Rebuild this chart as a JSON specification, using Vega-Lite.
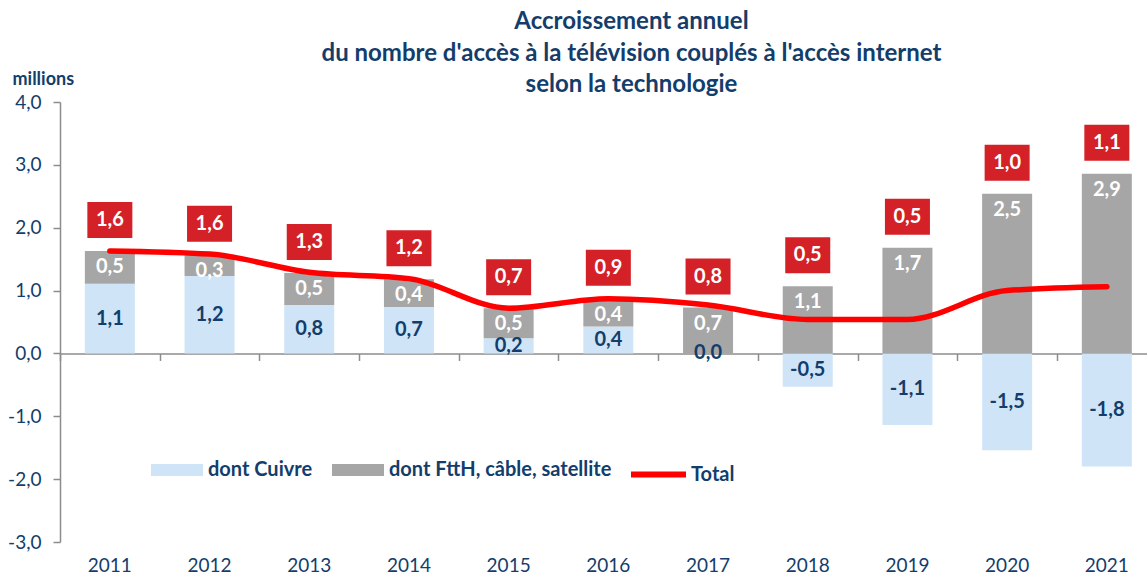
{
  "$schema": "https://vega.github.io/schema/vega-lite/v6.json",
  "width": 1087,
  "height": 440,
  "autosize": {"type": "none"},
  "padding": {"left": 60, "top": 102, "right": 0, "bottom": 35},
  "background": "white",
  "title": {
    "text": ["Accroissement annuel", "du nombre d'accès à la télévision couplés à l'accès internet", "selon la technologie"],
    "font": "Lato",
    "fontSize": 24,
    "fontWeight": "bold",
    "color": "#133D6B",
    "anchor": "middle",
    "frame": "group",
    "dx": 28,
    "lineHeight": 31.5,
    "offset": -27
  },
  "config": {
    "view": {"stroke": null},
    "locale": {"number": {"decimal": ",", "thousands": "\u00a0", "grouping": [3], "currency": ["", " €"], "minus": "-"}},
    "font": "Lato"
  },
  "datasets": {
    "bars": [
      {"year": "2011", "serie": "dont Cuivre", "ord": 1, "value": 1.11},
      {"year": "2011", "serie": "dont FttH, câble, satellite", "ord": 2, "value": 0.52},
      {"year": "2012", "serie": "dont Cuivre", "ord": 1, "value": 1.23},
      {"year": "2012", "serie": "dont FttH, câble, satellite", "ord": 2, "value": 0.34},
      {"year": "2013", "serie": "dont Cuivre", "ord": 1, "value": 0.77},
      {"year": "2013", "serie": "dont FttH, câble, satellite", "ord": 2, "value": 0.51},
      {"year": "2014", "serie": "dont Cuivre", "ord": 1, "value": 0.74},
      {"year": "2014", "serie": "dont FttH, câble, satellite", "ord": 2, "value": 0.44},
      {"year": "2015", "serie": "dont Cuivre", "ord": 1, "value": 0.24},
      {"year": "2015", "serie": "dont FttH, câble, satellite", "ord": 2, "value": 0.48},
      {"year": "2016", "serie": "dont Cuivre", "ord": 1, "value": 0.43},
      {"year": "2016", "serie": "dont FttH, câble, satellite", "ord": 2, "value": 0.44},
      {"year": "2017", "serie": "dont Cuivre", "ord": 1, "value": 0.0},
      {"year": "2017", "serie": "dont FttH, câble, satellite", "ord": 2, "value": 0.73},
      {"year": "2018", "serie": "dont Cuivre", "ord": 1, "value": -0.53},
      {"year": "2018", "serie": "dont FttH, câble, satellite", "ord": 2, "value": 1.07},
      {"year": "2019", "serie": "dont Cuivre", "ord": 1, "value": -1.14},
      {"year": "2019", "serie": "dont FttH, câble, satellite", "ord": 2, "value": 1.68},
      {"year": "2020", "serie": "dont Cuivre", "ord": 1, "value": -1.54},
      {"year": "2020", "serie": "dont FttH, câble, satellite", "ord": 2, "value": 2.54},
      {"year": "2021", "serie": "dont Cuivre", "ord": 1, "value": -1.80},
      {"year": "2021", "serie": "dont FttH, câble, satellite", "ord": 2, "value": 2.86}
    ],
    "totals": [
      {"year": "2011", "total": 1.63},
      {"year": "2012", "total": 1.58},
      {"year": "2013", "total": 1.29},
      {"year": "2014", "total": 1.19},
      {"year": "2015", "total": 0.72},
      {"year": "2016", "total": 0.87},
      {"year": "2017", "total": 0.77},
      {"year": "2018", "total": 0.54},
      {"year": "2019", "total": 0.54},
      {"year": "2020", "total": 1.00},
      {"year": "2021", "total": 1.06}
    ]
  },
  "resolve": {"axis": {"x": "independent", "y": "independent"}},
  "layer": [
    {
      "data": {"name": "bars"},
      "mark": {"type": "bar", "strokeWidth": 0},
      "encoding": {
        "x": {
          "field": "year", "type": "nominal", "sort": "ascending",
          "scale": {"paddingInner": 0.4985, "paddingOuter": 0.2007, "align": 0.621},
          "axis": {
            "orient": "bottom", "title": null, "domain": false, "ticks": false,
            "labelAngle": 0, "labelFontSize": 19, "labelColor": "#133D6B", "labelPadding": 14,
            "labelFont": "Lato"
          }
        },
        "y": {
          "field": "value", "type": "quantitative", "stack": "zero",
          "scale": {"domain": [-3, 4], "nice": false, "zero": false},
          "axis": {
            "title": "millions", "titleAngle": 0, "titleAlign": "left", "titleBaseline": "alphabetic",
            "titleX": -48, "titleY": -18, "titleFontSize": 18, "titleFontWeight": "bold", "titleColor": "#133D6B",
            "titleFont": "Lato",
            "values": [-3, -2, -1, 0, 1, 2, 3, 4], "format": ".1f",
            "grid": false, "domainColor": "#8C8C8C", "domainWidth": 1.5,
            "tickColor": "#8C8C8C", "tickSize": 7, "tickWidth": 1.5,
            "labelFontSize": 19, "labelColor": "#133D6B", "labelPadding": 12, "labelFont": "Lato"
          }
        },
        "color": {
          "field": "serie", "type": "nominal",
          "scale": {"domain": ["dont Cuivre", "dont FttH, câble, satellite"], "range": ["#CFE4F7", "#A6A6A6"]},
          "legend": {
            "orient": "none", "legendX": 91, "legendY": 342, "direction": "horizontal", "title": null,
            "symbolType": "M-1,-0.23L1,-0.23L1,0.23L-1,0.23Z", "symbolSize": 2704, "symbolStrokeWidth": 0,
            "labelFontSize": 20, "labelFontWeight": "bold", "labelColor": "#133D6B", "labelOffset": 5,
            "columnPadding": 19, "labelFont": "Lato", "labelLimit": 400
          }
        },
        "order": {"field": "ord", "type": "quantitative"}
      }
    },
    {
      "data": {"name": "bars"},
      "transform": [{"filter": "datum.serie === 'dont Cuivre'"}],
      "mark": {"type": "text", "fontSize": 20, "fontWeight": "bold", "baseline": "middle", "align": "center", "font": "Lato", "color": "#133D6B"},
      "encoding": {
        "x": {"field": "year", "type": "nominal", "sort": "ascending", "axis": null},
        "y": {"field": "value", "type": "quantitative", "stack": "zero", "bandPosition": 0.5, "axis": null},
        "text": {"field": "value", "type": "quantitative", "format": ".1f"}
      }
    },
    {
      "data": {"name": "bars"},
      "transform": [
        {"stack": "value", "groupby": ["year"], "sort": [{"field": "ord", "order": "ascending"}], "as": ["v0", "v1"], "offset": "zero"},
        {"filter": "datum.serie !== 'dont Cuivre'"}
      ],
      "mark": {"type": "text", "fontSize": 20, "fontWeight": "bold", "baseline": "middle", "align": "center", "font": "Lato", "color": "#FFFFFF", "dy": 16},
      "encoding": {
        "x": {"field": "year", "type": "nominal", "sort": "ascending", "axis": null},
        "y": {"field": "v1", "type": "quantitative", "axis": null},
        "text": {"field": "value", "type": "quantitative", "format": ".1f"}
      }
    },
    {
      "data": {"name": "totals"},
      "mark": {"type": "line", "strokeWidth": 5.5, "strokeCap": "round", "strokeJoin": "round", "interpolate": "monotone"},
      "encoding": {
        "x": {
          "field": "year", "type": "nominal", "sort": "ascending",
          "axis": {
            "orient": "bottom", "offset": -188.57, "title": null, "labels": false,
            "domain": true, "domainColor": "#8C8C8C", "domainWidth": 1.5,
            "ticks": true, "tickColor": "#8C8C8C", "tickWidth": 1.5, "tickSize": 7,
            "bandPosition": 0, "tickOffset": -24.85, "tickExtra": false, "grid": false
          }
        },
        "y": {"field": "total", "type": "quantitative", "axis": null},
        "stroke": {
          "datum": "Total", "type": "nominal",
          "scale": {"domain": ["Total"], "range": ["#FF0000"]},
          "legend": {
            "orient": "none", "legendX": 568, "legendY": 342, "title": null,
            "symbolType": "stroke", "symbolSize": 3025, "symbolStrokeWidth": 6,
            "labelFontSize": 20, "labelFontWeight": "bold", "labelColor": "#133D6B", "labelOffset": 2,
            "labelFont": "Lato"
          }
        }
      }
    },
    {
      "data": {"name": "bars"},
      "transform": [
        {"filter": "datum.value > 0"},
        {"aggregate": [{"op": "sum", "field": "value", "as": "top"}], "groupby": ["year"]},
        {"lookup": "year", "from": {"data": {"name": "totals"}, "key": "year", "fields": ["total"]}}
      ],
      "layer": [
        {
          "mark": {"type": "point", "shape": "M-1.25,-2.72L1.25,-2.72L1.25,-0.72L-1.25,-0.72Z", "size": 1296, "filled": true, "fill": "#D42127", "opacity": 1, "strokeWidth": 0},
          "encoding": {
            "x": {"field": "year", "type": "nominal", "sort": "ascending", "axis": null},
            "y": {"field": "top", "type": "quantitative", "axis": null}
          }
        },
        {
          "mark": {"type": "text", "dy": -31, "fontSize": 20, "fontWeight": "bold", "color": "#FFFFFF", "baseline": "middle", "align": "center", "font": "Lato"},
          "encoding": {
            "x": {"field": "year", "type": "nominal", "sort": "ascending", "axis": null},
            "y": {"field": "top", "type": "quantitative", "axis": null},
            "text": {"field": "total", "type": "quantitative", "format": ".1f"}
          }
        }
      ]
    }
  ]
}
